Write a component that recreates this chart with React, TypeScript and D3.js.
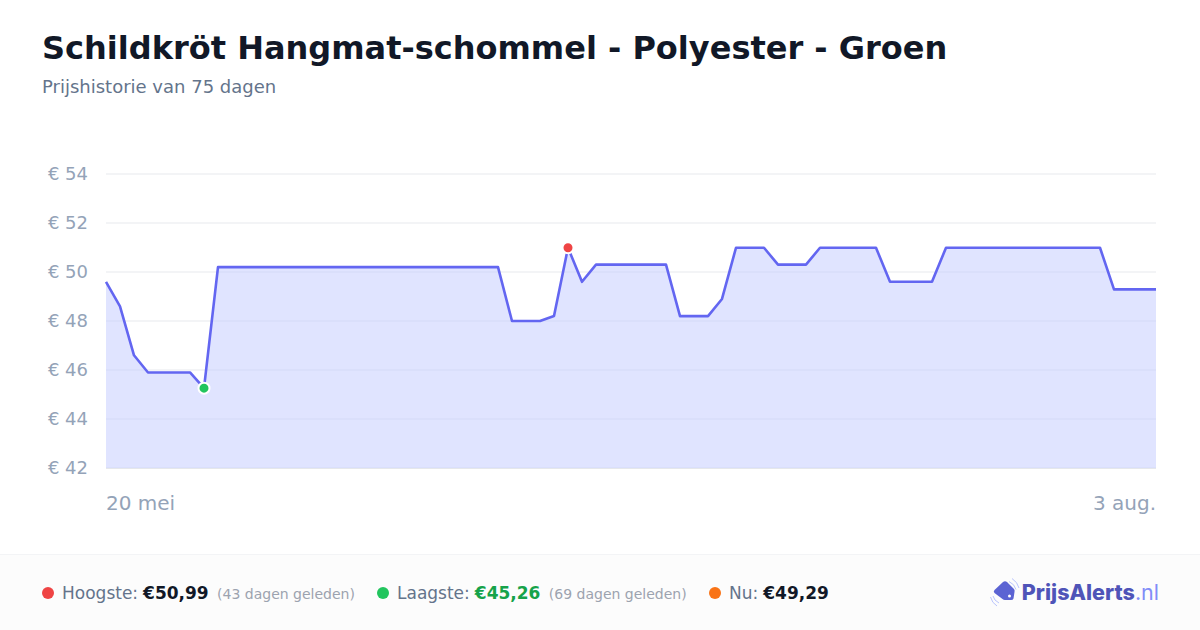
import { useEffect, useRef } from "react"
import * as d3 from "d3"

const title = "Schildkröt Hangmat-schommel - Polyester - Groen"
const subtitle = "Prijshistorie van 75 dagen"

// One price per day, 20 mei .. 3 aug
const prices = [
  49.6, 48.6, 46.6, 45.9, 45.9, 45.9, 45.9, 45.26, 50.2, 50.2,
  50.2, 50.2, 50.2, 50.2, 50.2, 50.2, 50.2, 50.2, 50.2, 50.2,
  50.2, 50.2, 50.2, 50.2, 50.2, 50.2, 50.2, 50.2, 50.2, 48.0,
  48.0, 48.0, 48.2, 50.99, 49.6, 50.3, 50.3, 50.3, 50.3, 50.3,
  50.3, 48.2, 48.2, 48.2, 48.9, 50.99, 50.99, 50.99, 50.3, 50.3,
  50.3, 50.99, 50.99, 50.99, 50.99, 50.99, 49.6, 49.6, 49.6, 49.6,
  50.99, 50.99, 50.99, 50.99, 50.99, 50.99, 50.99, 50.99, 50.99, 50.99,
  50.99, 50.99, 49.29, 49.29, 49.29, 49.29,
]
const yTicks = [42, 44, 46, 48, 50, 52, 54]
const xLabels = ["20 mei", "3 aug."]

const highest = { label: "Hoogste:", value: "€50,99", ago: "(43 dagen geleden)" }
const lowest = { label: "Laagste:", value: "€45,26", ago: "(69 dagen geleden)" }
const current = { label: "Nu:", value: "€49,29" }

const FONT = "'DejaVu Sans', sans-serif"

const App = () => {
  const svgRef = useRef<SVGSVGElement | null>(null)

  useEffect(() => {
    if (!svgRef.current) return

    const svg = d3.select(svgRef.current)
    svg.selectAll("*").remove()

    const margin = { top: 174, right: 44, bottom: 162, left: 106 }
    const width = 1200
    const height = 630

    const xScale = d3
      .scaleLinear()
      .domain([0, prices.length - 1])
      .range([margin.left, width - margin.right])
    const yScale = d3
      .scaleLinear()
      .domain([42, 54])
      .range([height - margin.bottom, margin.top])

    svg.append("rect").attr("width", width).attr("height", height).attr("fill", "#ffffff")

    // Title
    svg.append("text")
      .attr("x", 42)
      .attr("y", 59)
      .attr("font-size", 32)
      .attr("font-weight", 700)
      .attr("fill", "#111827")
      .text(title)
    svg.append("text")
      .attr("x", 42)
      .attr("y", 93)
      .attr("font-size", 18)
      .attr("fill", "#64748b")
      .text(subtitle)

    // Grid lines and y labels
    svg.selectAll(".grid")
      .data(yTicks)
      .join("line")
      .attr("class", "grid")
      .attr("x1", margin.left)
      .attr("x2", width - margin.right)
      .attr("y1", (d) => yScale(d))
      .attr("y2", (d) => yScale(d))
      .attr("stroke", "#f3f4f6")
      .attr("stroke-width", 2)

    svg.selectAll(".y-label")
      .data(yTicks)
      .join("text")
      .attr("class", "y-label")
      .attr("x", 88)
      .attr("y", (d) => yScale(d) + 6)
      .attr("text-anchor", "end")
      .attr("font-size", 18)
      .attr("fill", "#94a3b8")
      .text((d) => `€ ${d}`)

    // Area + line
    const area = d3
      .area<number>()
      .x((_, i) => xScale(i))
      .y0(yScale(42))
      .y1((d) => yScale(d))
    const line = d3
      .line<number>()
      .x((_, i) => xScale(i))
      .y((d) => yScale(d))

    svg.append("path").attr("d", area(prices)).attr("fill", "#c1c9ff").attr("fill-opacity", 0.5)

    // Baseline shows through at the bottom of the area
    svg.append("line")
      .attr("x1", margin.left)
      .attr("x2", width - margin.right)
      .attr("y1", yScale(42) + 0.5)
      .attr("y2", yScale(42) + 0.5)
      .attr("stroke", "#e5e7eb")

    svg.append("path")
      .attr("d", line(prices))
      .attr("fill", "none")
      .attr("stroke", "#6366f1")
      .attr("stroke-width", 2.6)
      .attr("stroke-linejoin", "round")

    // Highest and lowest markers
    const maxIdx = d3.maxIndex(prices)
    const minIdx = d3.minIndex(prices)
    svg.selectAll(".marker")
      .data([
        { i: maxIdx, color: "#ef4444" },
        { i: minIdx, color: "#22c55e" },
      ])
      .join("circle")
      .attr("class", "marker")
      .attr("cx", (d) => xScale(d.i))
      .attr("cy", (d) => yScale(prices[d.i]))
      .attr("r", 5.5)
      .attr("fill", (d) => d.color)
      .attr("stroke", "#ffffff")
      .attr("stroke-width", 2)

    // X labels
    svg.append("text")
      .attr("x", margin.left)
      .attr("y", 510)
      .attr("font-size", 20)
      .attr("fill", "#94a3b8")
      .text(xLabels[0])
    svg.append("text")
      .attr("x", width - margin.right)
      .attr("y", 510)
      .attr("text-anchor", "end")
      .attr("font-size", 20)
      .attr("fill", "#94a3b8")
      .text(xLabels[1])

    // Footer
    svg.append("rect")
      .attr("x", 0)
      .attr("y", 554)
      .attr("width", width)
      .attr("height", 76)
      .attr("fill", "#fcfcfc")
    svg.append("line")
      .attr("x1", 0)
      .attr("x2", width)
      .attr("y1", 554.5)
      .attr("y2", 554.5)
      .attr("stroke", "#f3f4f6")

    const stat = (x: number, color: string, valueColor: string, s: { label: string; value: string; ago?: string }) => {
      svg.append("circle").attr("cx", x + 6).attr("cy", 593).attr("r", 6).attr("fill", color)
      const t = svg.append("text")
        .attr("x", x + 20)
        .attr("y", 599)
        .attr("font-size", 17)
      t.append("tspan").attr("fill", "#64748b").text(s.label)
      t.append("tspan").attr("dx", 5).attr("font-weight", 700).attr("fill", valueColor).text(s.value)
      if (s.ago) {
        t.append("tspan").attr("dx", 8.4).attr("font-size", 14).attr("fill", "#9ca3af").text(s.ago)
      }
    }
    stat(42, "#ef4444", "#111827", highest)
    stat(377, "#22c55e", "#16a34a", lowest)
    stat(709, "#f97316", "#111827", current)

    // Logo
    const logo = svg.append("g").attr("transform", "translate(990,578)")
    logo.append("path")
      .attr("d", "M4.5 12 L13 4 Q15 2.5 17 4 L24 11 Q25 12.5 24.5 14 L23.5 20.5 Q23 22 21 22 L15 22 Q13.5 22 12.5 21 L4.5 15 Q3 13.5 4.5 12 Z")
      .attr("fill", "#5b63d3")
    logo.append("circle").attr("cx", 19.5).attr("cy", 18).attr("r", 1.5).attr("fill", "#ffffff")
    logo.append("path")
      .attr("d", "M19 3.5 Q24.5 6 26 11.5 M22 0.5 Q27.5 4 29 10")
      .attr("fill", "none")
      .attr("stroke", "#b9c4fd")
      .attr("stroke-width", 1)
    logo.append("path")
      .attr("d", "M3 18 Q4 22.5 9 25 M0.5 19 Q2 25 7 28")
      .attr("fill", "none")
      .attr("stroke", "#b9c4fd")
      .attr("stroke-width", 1)
    const brand = svg.append("text")
      .attr("x", 1159)
      .attr("y", 600)
      .attr("text-anchor", "end")
      .attr("font-size", 21.5)
      .attr("font-family", "Inter, sans-serif")
    brand.append("tspan").attr("font-weight", 800).attr("fill", "#4f54b8").text("PrijsAlerts")
    brand.append("tspan").attr("fill", "#818cf8").text(".nl")
  }, [])

  return (
    <div style={{ width: 1200, height: 630 }}>
      <style>{"body{margin:0}"}</style>
      <svg ref={svgRef} width={1200} height={630} fontFamily={FONT} style={{ display: "block" }} />
    </div>
  )
}

export default App
